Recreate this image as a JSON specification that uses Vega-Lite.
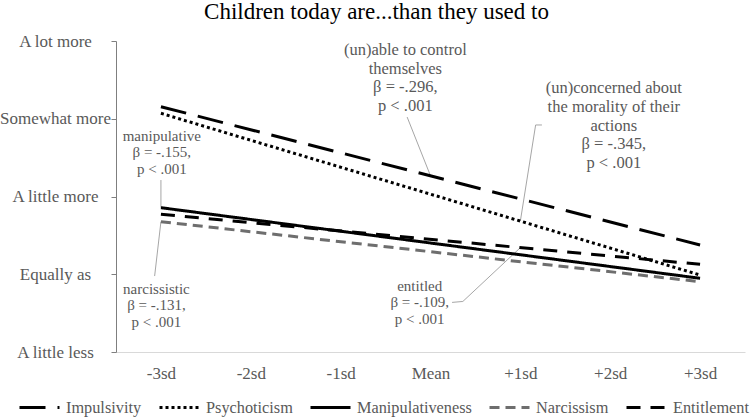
{
  "$schema": "https://vega.github.io/schema/vega-lite/v6.json",
  "width": 629,
  "height": 311,
  "autosize": "none",
  "padding": {"left": 116, "top": 41, "right": 5, "bottom": 67},
  "background": "white",
  "title": {
    "text": "Children today are...than they used to",
    "font": "Liberation Serif",
    "fontSize": 23,
    "fontWeight": "normal",
    "color": "#000000",
    "anchor": "middle",
    "dx": -54,
    "offset": 8
  },
  "config": {
    "view": {"stroke": null},
    "font": "Liberation Serif"
  },
  "datasets": {
    "lines": [
      {"series": "Impulsivity", "x": -3, "y": 4.155},
      {"series": "Impulsivity", "x": 3, "y": 2.376},
      {"series": "Psychoticism", "x": -3, "y": 4.07},
      {"series": "Psychoticism", "x": 3, "y": 1.99},
      {"series": "Manipulativeness", "x": -3, "y": 2.856},
      {"series": "Manipulativeness", "x": 3, "y": 1.948},
      {"series": "Narcissism", "x": -3, "y": 2.676},
      {"series": "Narcissism", "x": 3, "y": 1.904},
      {"series": "Entitlement", "x": -3, "y": 2.771},
      {"series": "Entitlement", "x": 3, "y": 2.128}
    ],
    "callouts": [
      {"id": "c1", "seq": 1, "x": -0.26, "y": 4.022},
      {"id": "c1", "seq": 2, "x": 0, "y": 3.266},
      {"id": "c2", "seq": 1, "x": 1.24, "y": 3.92},
      {"id": "c2", "seq": 2, "x": 1.17, "y": 3.92},
      {"id": "c2", "seq": 3, "x": 1.0, "y": 2.683},
      {"id": "c3", "seq": 1, "x": -3, "y": 3.212},
      {"id": "c3", "seq": 2, "x": -3, "y": 2.856},
      {"id": "c4", "seq": 1, "x": -3.07, "y": 1.977},
      {"id": "c4", "seq": 2, "x": -3, "y": 2.676},
      {"id": "c5", "seq": 1, "x": 0.24, "y": 1.638},
      {"id": "c5", "seq": 2, "x": 0.36, "y": 1.65},
      {"id": "c5", "seq": 3, "x": 1.0, "y": 2.342}
    ],
    "notesBig": [
      {"label": "(un)able to control\nthemselves\nβ = -.296,\np < .001", "x": -0.28, "y": 4.884},
      {"label": "(un)concerned about\nthe morality of their\nactions\nβ = -.345,\np < .001", "x": 2.04, "y": 4.392}
    ],
    "notesSmall": [
      {"label": "manipulative\nβ = -.155,\np < .001", "x": -2.99, "y": 3.778},
      {"label": "narcissistic\nβ = -.131,\np < .001", "x": -3.05, "y": 1.81},
      {"label": "entitled\nβ = -.109,\np < .001", "x": -0.12, "y": 1.849}
    ]
  },
  "layer": [
    {
      "data": {"name": "callouts"},
      "mark": {"type": "line", "stroke": "#a6a6a6", "strokeWidth": 1},
      "encoding": {
        "x": {"field": "x", "type": "quantitative", "scale": {"domain": [-3.5, 3.5]}},
        "y": {"field": "y", "type": "quantitative", "scale": {"domain": [1, 5]}},
        "detail": {"field": "id"},
        "order": {"field": "seq"}
      }
    },
    {
      "data": {"name": "lines"},
      "mark": {"type": "line", "strokeWidth": 3, "strokeCap": "butt"},
      "encoding": {
        "x": {
          "field": "x", "type": "quantitative",
          "scale": {"domain": [-3.5, 3.5], "nice": false, "zero": false},
          "axis": {
            "title": null,
            "values": [-3, -2, -1, 0, 1, 2, 3],
            "labelExpr": "datum.value == 0 ? 'Mean' : (datum.value > 0 ? '+' : '') + datum.value + 'sd'",
            "grid": false,
            "ticks": false,
            "domainColor": "#d9d9d9",
            "domainWidth": 1,
            "labelFont": "Liberation Serif",
            "labelFontSize": 17,
            "labelColor": "#595959",
            "labelPadding": 13
          }
        },
        "y": {
          "field": "y", "type": "quantitative",
          "scale": {"domain": [1, 5], "nice": false, "zero": false},
          "axis": {
            "title": null,
            "values": [1, 2, 3, 4, 5],
            "labelExpr": "['', 'A little less', 'Equally as', 'A little more', 'Somewhat more', 'A lot more'][datum.value]",
            "grid": false,
            "domainColor": "#7f7f7f",
            "tickColor": "#7f7f7f",
            "tickSize": 5,
            "labelAlign": "center",
            "labelPadding": 56,
            "labelFont": "Liberation Serif",
            "labelFontSize": 17,
            "labelColor": "#595959"
          }
        },
        "color": {
          "field": "series", "type": "nominal",
          "scale": {
            "domain": ["Impulsivity", "Psychoticism", "Manipulativeness", "Narcissism", "Entitlement"],
            "range": ["#000000", "#000000", "#000000", "#6e6e6e", "#000000"]
          },
          "legend": {
            "title": null,
            "orient": "none",
            "direction": "horizontal",
            "columns": 5,
            "legendX": -98,
            "legendY": 345,
            "symbolType": "stroke",
            "symbolSize": 1600,
            "symbolStrokeWidth": 3,
            "labelFont": "Liberation Serif",
            "labelFontSize": 16.3,
            "labelColor": "#595959",
            "labelOffset": 5,
            "columnPadding": 11
          }
        },
        "strokeDash": {
          "field": "series", "type": "nominal",
          "scale": {
            "domain": ["Impulsivity", "Psychoticism", "Manipulativeness", "Narcissism", "Entitlement"],
            "range": [[26, 12], [3, 3], [1, 0], [10, 6], [14, 10]]
          }
        }
      }
    },
    {
      "data": {"name": "notesBig"},
      "mark": {"type": "text", "font": "Liberation Serif", "fontSize": 16.5, "lineHeight": 18.7, "lineBreak": "\n", "color": "#595959", "align": "center", "baseline": "middle"},
      "encoding": {
        "x": {"field": "x", "type": "quantitative"},
        "y": {"field": "y", "type": "quantitative"},
        "text": {"field": "label"}
      }
    },
    {
      "data": {"name": "notesSmall"},
      "mark": {"type": "text", "font": "Liberation Serif", "fontSize": 15, "lineHeight": 16.3, "lineBreak": "\n", "color": "#595959", "align": "center", "baseline": "middle"},
      "encoding": {
        "x": {"field": "x", "type": "quantitative"},
        "y": {"field": "y", "type": "quantitative"},
        "text": {"field": "label"}
      }
    }
  ]
}
